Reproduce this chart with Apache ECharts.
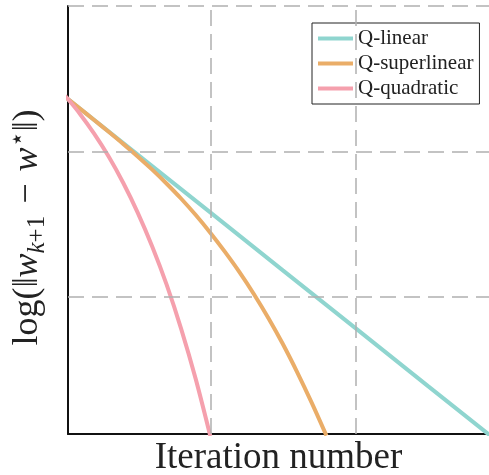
<!DOCTYPE html>
<html>
<head>
<meta charset="utf-8">
<script src="https://cdn.jsdelivr.net/npm/echarts@6/dist/echarts.min.js"></script>
<style>html,body{margin:0;padding:0;background:#fff}#c{width:489px;height:475px}</style>
</head>
<body>
<div id="c"></div>
<script>
// Iterations (x) and log-error values (y)
const iterLinear = [0, 5, 10, 15, 20, 25, 30];
const valLinear = [-6.23, -10.21, -14.18, -18.16, -22.13, -26.11, -30.08];

const iterSuper = [0, 1, 2, 3, 4, 5, 6, 7, 8, 9, 10, 11, 12, 13, 14, 15, 16, 17, 18];
const valSuper = [-6.23, -7.03, -7.83, -8.64, -9.47, -10.33, -11.24, -12.21, -13.24, -14.36,
                  -15.57, -16.87, -18.26, -19.78, -21.43, -23.22, -25.18, -27.28, -29.51];

const iterQuad = [0, 1, 2, 3, 4, 5, 6, 7, 8, 9, 10];
const valQuad = [-6.16, -7.38, -8.77, -10.34, -12.14, -14.19, -16.52, -19.16, -22.19, -25.63, -29.53];

const seriesNames = ['Q-linear', 'Q-superlinear', 'Q-quadratic'];
const xGridTicks = [10, 20];
const yGridTicks = [0, -10, -20];

const colors = ['#8fd5cf', '#eaad68', '#f5a0ad'];
const serif = '"Liberation Serif", "DejaVu Serif", serif';

const pairs = (xs, ys) => xs.map((x, i) => [x, ys[i]]);

const chart = echarts.init(document.getElementById('c'), null, {renderer: 'canvas'});
const lineSeries = [
  [iterLinear, valLinear],
  [iterSuper, valSuper],
  [iterQuad, valQuad]
].map((d, i) => ({
  name: seriesNames[i],
  type: 'line',
  data: pairs(d[0], d[1]),
  smooth: i === 0 ? false : 0.3,
  showSymbol: false,
  symbol: 'none',
  clip: true,
  z: 3,
  lineStyle: {color: colors[i], width: 4, cap: 'butt'},
  itemStyle: {color: colors[i]}
}));

const gridSeries = {
  name: 'grid',
  type: 'line',
  data: [],
  z: 1,
  silent: true,
  markLine: {
    silent: true,
    symbol: ['none', 'none'],
    label: {show: false},
    animation: false,
    lineStyle: {color: '#b0b0b0', width: 1.5, type: [16, 8]},
    data: xGridTicks.map(v => ({xAxis: v})).concat(yGridTicks.map(v => ({yAxis: v})))
  }
};

chart.setOption({
  animation: false,
  backgroundColor: '#fff',
  grid: {left: 68, top: 6, right: 0, bottom: 41, containLabel: false, outerBoundsMode: 'none'},
  legend: {
    data: seriesNames,
    orient: 'vertical',
    left: 312,
    top: 23,
    icon: 'rect',
    itemWidth: 35,
    itemHeight: 4,
    itemGap: 4,
    padding: [5, 6, 5, 6],
    borderColor: '#222',
    borderWidth: 1,
    borderRadius: 0,
    backgroundColor: '#fff',
    textStyle: {fontFamily: serif, fontSize: 21, color: '#222', lineHeight: 18}
  },
  xAxis: {
    type: 'value',
    min: 0.2,
    max: 29.2,
    axisLine: {show: true, onZero: false, lineStyle: {color: '#111', width: 2}},
    axisTick: {show: false},
    axisLabel: {show: false},
    splitLine: {show: false},
    name: 'Iteration number',
    nameLocation: 'middle',
    nameGap: 6,
    nameTextStyle: {fontFamily: serif, fontSize: 37, color: '#222', lineHeight: 37}
  },
  yAxis: {
    type: 'value',
    min: -29.4,
    max: 0,
    axisLine: {show: true, onZero: false, lineStyle: {color: '#111', width: 2}},
    axisTick: {show: false},
    axisLabel: {show: false},
    splitLine: {show: false},
    name: '{n|log(‖}{i|w}{si|k}{s|+1}{n|\u2004−\u2004}{i|w}{sp|⋆}{n|‖)}',
    nameLocation: 'middle',
    nameGap: 18,
    nameTextStyle: {
      color: '#222',
      padding: [0, 15, 0, 0],
      rich: {
        n: {fontFamily: serif, fontSize: 36, lineHeight: 44, color: '#222'},
        i: {fontFamily: serif, fontSize: 36, lineHeight: 44, fontStyle: 'italic', color: '#222'},
        si: {fontFamily: serif, fontSize: 25, lineHeight: 30, fontStyle: 'italic', verticalAlign: 'bottom', color: '#222'},
        s: {fontFamily: serif, fontSize: 25, lineHeight: 30, verticalAlign: 'bottom', color: '#222'},
        sp: {fontFamily: serif, fontSize: 25, lineHeight: 30, verticalAlign: 'top', color: '#222'}
      }
    }
  },
  series: [gridSeries].concat(lineSeries)
});
</script>
</body>
</html>
